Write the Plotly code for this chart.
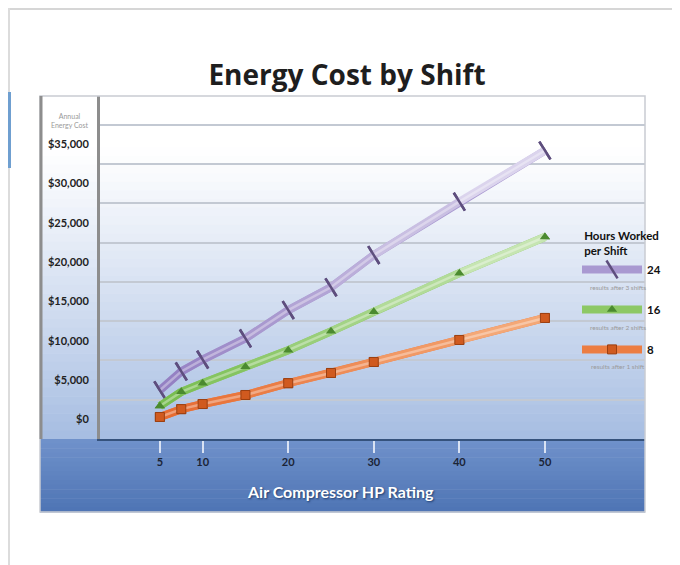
import plotly.graph_objects as go

# ---------------- data ----------------
hp_rating = [5, 7.5, 10, 15, 20, 25, 30, 40, 50]
cost_24h = [3700, 6100, 7600, 10300, 13900, 16800, 20900, 27700, 34200]
cost_16h = [1700, 3500, 4600, 6700, 8800, 11200, 13700, 18600, 23200]
cost_8h = [300, 1300, 1950, 3100, 4600, 5900, 7300, 10100, 12900]

x_ticks = [5, 10, 20, 30, 40, 50]
y_ticks = [0, 5000, 10000, 15000, 20000, 25000, 30000, 35000]
y_tick_text = ["$" + format(v, ",d") for v in y_ticks]
series_names = ["24", "16", "8"]
series_notes = ["results after 3 shifts", "results after 2 shifts", "results after 1 shift"]

# ---------------- geometry (reference pixel coords; page body adds an 8px offset) ----------------
W, H = 680, 565
OFF = 8
L, R, T, B = 100, 645, 96, 439  # plot area in reference pixels


def px_x(px):
    return (px - L) / (R - L)


def px_y(py):
    return (B - py) / (B - T)


def mix(c1, c2, t):
    return "rgb(%d,%d,%d)" % tuple(round(a + (b - a) * t) for a, b in zip(c1, c2))


FONT = "Lato"
fig = go.Figure()

styles = [
    dict(left=(146, 126, 194), right=(228, 223, 242), mid="#a999d1",
         mk=dict(symbol="line-ns", size=15, angle=-32, line=dict(width=2.5, color="#5e4e7e"))),
    dict(left=(118, 188, 78), right=(208, 234, 190), mid="#8dc865",
         mk=dict(symbol="triangle-up", size=9, color="#4b8a2f", line=dict(width=0))),
    dict(left=(230, 106, 48), right=(246, 176, 128), mid="#ec7d42",
         mk=dict(symbol="square", size=9, color="#d05a1f", line=dict(width=1, color="#9c4012"))),
]
values = [cost_24h, cost_16h, cost_8h]
x_min, x_max = hp_rating[0], hp_rating[-1]

for k, (name, vals, st) in enumerate(zip(series_names, values, styles)):
    # full line (legend entry)
    fig.add_trace(go.Scatter(
        x=hp_rating, y=vals, mode="lines+markers", legendgroup=name,
        name="<b>%s</b>" % name,
        line=dict(color=st["mid"], width=8), marker=st["mk"], hoverinfo="skip"))
    # gradient segments (fading toward the right)
    for i in range(len(hp_rating) - 1):
        t = ((hp_rating[i] + hp_rating[i + 1]) / 2 - x_min) / (x_max - x_min)
        fig.add_trace(go.Scatter(
            x=hp_rating[i:i + 2], y=vals[i:i + 2], mode="lines", showlegend=False,
            legendgroup=name, line=dict(color=mix(st["left"], st["right"], t), width=8),
            hoverinfo="skip"))
    # tube highlight
    fig.add_trace(go.Scatter(
        x=hp_rating, y=vals, mode="lines", showlegend=False, legendgroup=name,
        line=dict(color="rgba(255,255,255,0.35)", width=2.5), hoverinfo="skip"))
    # markers on top
    fig.add_trace(go.Scatter(
        x=hp_rating, y=vals, mode="markers", showlegend=False, legendgroup=name,
        marker=st["mk"], hoverinfo="skip"))

# ---------------- background shapes ----------------
shapes = []
shapes.append(dict(type="rect", xref="paper", yref="paper", x0=px_x(-20), x1=px_x(W + 20),
                   y0=px_y(10), y1=px_y(-20), fillcolor="#d6d6d6", line=dict(width=0), layer="below"))
shapes.append(dict(type="rect", xref="paper", yref="paper", x0=px_x(-20), x1=px_x(10),
                   y0=px_y(H + 20), y1=px_y(-20), fillcolor="#dcdcdc", line=dict(width=0), layer="below"))
shapes.append(dict(type="rect", xref="paper", yref="paper", x0=px_x(-20), x1=px_x(11),
                   y0=px_y(168), y1=px_y(92), fillcolor="#6f9fd0", line=dict(width=0), layer="below"))

top_c = (255, 255, 255)
bot_c = (166, 189, 226)
n = 40
for i in range(n):
    y0 = T + (B - T) * i / n
    y1 = T + (B - T) * (i + 1) / n
    t = max(0.0, ((i + 0.5) / n - 0.15) / 0.85)
    shapes.append(dict(type="rect", xref="paper", yref="paper",
                       x0=px_x(40), x1=px_x(R), y0=px_y(y1 + 0.5), y1=px_y(y0),
                       fillcolor=mix(top_c, bot_c, t ** 1.1), line=dict(width=0), layer="below"))
band_top = (112, 146, 203)
band_bot = (78, 116, 180)
m = 16
for i in range(m):
    y0 = B + (512 - B) * i / m
    y1 = B + (512 - B) * (i + 1) / m
    shapes.append(dict(type="rect", xref="paper", yref="paper",
                       x0=px_x(40), x1=px_x(R), y0=px_y(y1 + 0.5), y1=px_y(y0),
                       fillcolor=mix(band_top, band_bot, (i + 0.5) / m), line=dict(width=0), layer="below"))
shapes.append(dict(type="rect", xref="paper", yref="paper", x0=px_x(40), x1=px_x(R),
                   y0=px_y(512), y1=px_y(T), line=dict(color="#c9ccd2", width=1.5),
                   fillcolor="rgba(0,0,0,0)", layer="above"))
shapes.append(dict(type="line", xref="paper", yref="paper", x0=px_x(41), x1=px_x(41),
                   y0=px_y(B), y1=px_y(T), line=dict(color="#8d8d8d", width=3), layer="above"))

annotations = [
    dict(text="Annual<br>Energy Cost", xref="paper", yref="paper", x=px_x(69), y=px_y(120),
         showarrow=False, font=dict(family=FONT, size=7, color="#9a9a9a"), xanchor="center",
         yanchor="middle"),
    dict(text="<b>Air Compressor HP Rating</b>", xref="paper", yref="paper", x=px_x(340), y=px_y(491),
         showarrow=False, xanchor="center", yanchor="middle",
         font=dict(family=FONT, size=16, color="#ffffff", shadow="1px 1px 2px #1d3b6b")),
]
# small notes under each legend entry
for note, ny in zip(series_notes, [287, 327, 366]):
    annotations.append(dict(text=note, xref="paper", yref="paper", x=px_x(618), y=px_y(ny),
                            showarrow=False, xanchor="center", yanchor="middle",
                            font=dict(family=FONT, size=6.5, color="#9a9a9a")))

fig.update_layout(
    width=W, height=H,
    margin=dict(l=L - OFF, r=W - (R - OFF), t=T - OFF, b=H - (B - OFF), pad=0, autoexpand=False),
    paper_bgcolor="#ffffff", plot_bgcolor="rgba(0,0,0,0)",
    title=dict(text="<b>Energy Cost by Shift</b>", x=(347 - OFF) / W, y=1 - (75 - OFF) / H,
               xanchor="center", yanchor="middle",
               font=dict(family="Open Sans", size=28, color="#1e1e1e")),
    shapes=shapes, annotations=annotations,
    showlegend=True,
    legend=dict(
        title=dict(text="<b>Hours Worked<br>per Shift</b>", side="top center",
                   font=dict(family=FONT, size=11.5, color="#111")),
        x=px_x(577), y=px_y(225), xanchor="left", yanchor="top",
        bgcolor="rgba(0,0,0,0)", font=dict(family=FONT, size=11.5, color="#111"),
        itemwidth=60, valign="middle", tracegroupgap=21),
    xaxis=dict(range=[-2, 61.7], tickvals=x_ticks, ticks="outside", ticklen=12, tickwidth=2,
               tickcolor="rgba(236,241,250,0.85)", showgrid=False, zeroline=False,
               showline=True, linecolor="#35527c", linewidth=2,
               tickfont=dict(family=FONT, size=11, color="#1b2436", weight="bold")),
    yaxis=dict(range=[-2500, 41140], tickmode="array", tickvals=y_ticks, ticktext=y_tick_text,
               ticks="", showgrid=False, zeroline=False, ticklabelstandoff=6,
               showline=True, linecolor="#8d8d8d", linewidth=3,
               tickfont=dict(family=FONT, size=11, color="#222", weight="bold"),
               minor=dict(tick0=2500, dtick=5000, showgrid=True, gridcolor="#c3c9d3", gridwidth=1.5)),
)

fig.write_html("out.html")
